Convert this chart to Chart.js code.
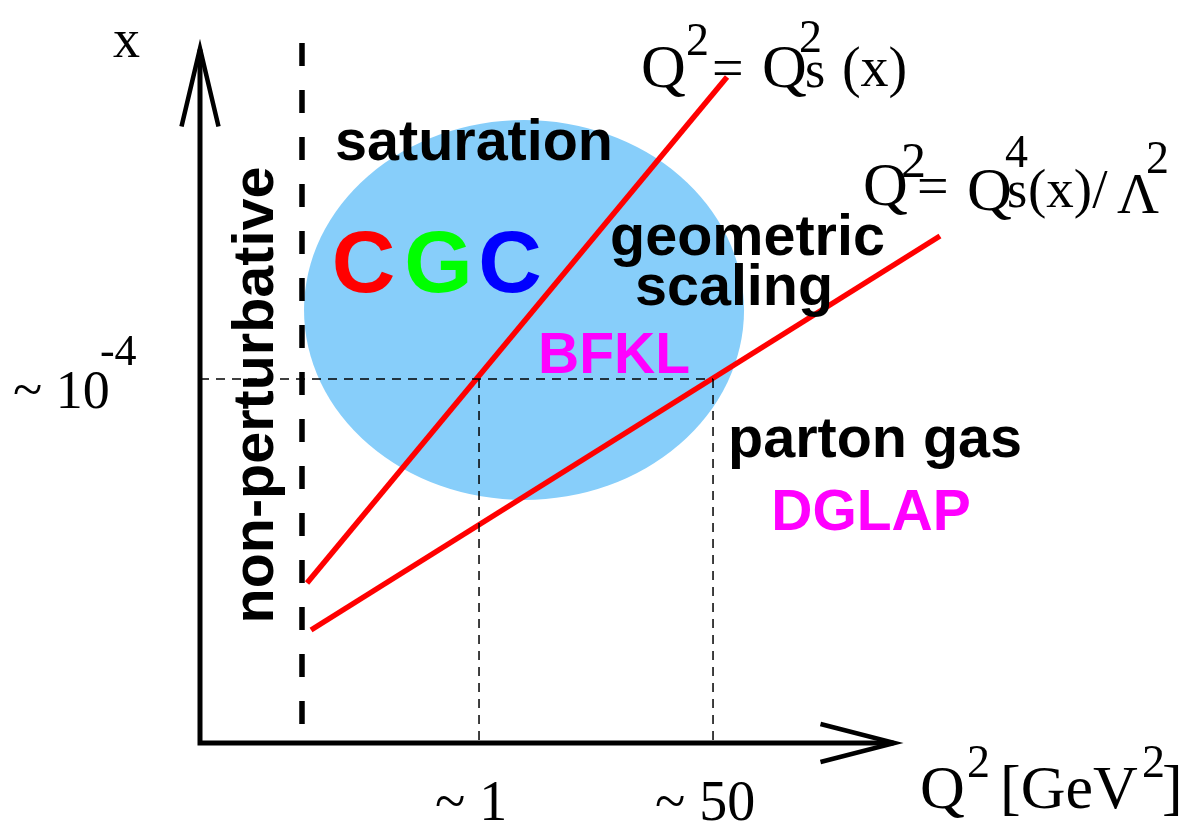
<!DOCTYPE html>
<html><head><meta charset="utf-8">
<script src="https://cdn.jsdelivr.net/npm/chart.js@4/dist/chart.umd.min.js"></script>
<style>html,body{margin:0;padding:0;background:#fff;}#wrap{width:1186px;height:830px;position:relative;}</style>
</head><body><div id="wrap"><canvas id="c"></canvas></div>
<script>
// ---- schematic data (abstract units: Q^2 axis horizontal, x axis vertical) ----
const axisEnd = 9.95;                    // both axes end (arrow tips)
const xTickLabels = ['~ 1', '~ 50'];
const xTickValues = [3.986, 7.329];     // ~1 GeV^2, ~50 GeV^2
const yTickLabel = '~ 10';
const yTickValue = 5.2;                 // ~10^-4
const nonPerturbativeQ = 1.457;         // non-perturbative boundary
const saturationLineX = [1.529, 7.529]; // Q^2 = Qs^2(x)
const saturationLineY = [2.286, 9.514];
const scalingLineX = [1.586, 10.571];   // Q^2 = Qs^4(x)/Lambda^2
const scalingLineY = [1.614, 7.243];
const cgcCenter = [4.629, 6.186];       // saturation region (ellipse)
const cgcRadius = [3.143, 2.714];

const SERIF = '"Liberation Serif", "DejaVu Serif", serif';
const SANS = '"Liberation Sans", Arial, sans-serif';

// text annotations: [text, x, y, size, family, bold, color, align, rotate]
const annotations = [
  ['x', -1.05, 9.8, 54, SERIF, false, '#000', 'center', 0],
  [yTickLabel, -2.671, 4.786, 54, SERIF, false, '#000', 'left', 0],
  ['-4', -1.429, 5.4, 44, SERIF, false, '#000', 'left', 0],
  [xTickLabels[0], 3.357, -1.1, 56, SERIF, false, '#000', 'left', 0],
  [xTickLabels[1], 6.5, -1.1, 56, SERIF, false, '#000', 'left', 0],
  ['Q', 10.286, -0.929, 62, SERIF, false, '#000', 'left', 0],
  ['2', 10.957, -0.486, 46, SERIF, false, '#000', 'left', 0],
  ['[GeV', 11.429, -0.929, 62, SERIF, false, '#000', 'left', 0],
  ['2', 13.457, -0.486, 46, SERIF, false, '#000', 'left', 0],
  [']', 13.743, -0.929, 62, SERIF, false, '#000', 'left', 0],
  // Q^2 = Qs^2(x)
  ['Q', 6.3, 9.371, 62, SERIF, false, '#000', 'left', 0],
  ['2', 6.943, 9.829, 46, SERIF, false, '#000', 'left', 0],
  ['=', 7.314, 9.371, 56, SERIF, false, '#000', 'left', 0],
  ['Q', 8.029, 9.371, 62, SERIF, false, '#000', 'left', 0],
  ['s', 8.643, 9.371, 52, SERIF, false, '#000', 'left', 0],
  ['2', 8.557, 9.871, 46, SERIF, false, '#000', 'left', 0],
  ['(x)', 9.171, 9.386, 56, SERIF, false, '#000', 'left', 0],
  // Q^2 = Qs^4(x)/Lambda^2
  ['Q', 9.471, 7.686, 62, SERIF, false, '#000', 'left', 0],
  ['2', 10.014, 8.086, 50, SERIF, false, '#000', 'left', 0],
  ['=', 10.243, 7.686, 56, SERIF, false, '#000', 'left', 0],
  ['Q', 10.957, 7.614, 62, SERIF, false, '#000', 'left', 0],
  ['4', 11.5, 8.229, 46, SERIF, false, '#000', 'left', 0],
  ['s', 11.529, 7.657, 52, SERIF, false, '#000', 'left', 0],
  ['(x)/', 11.829, 7.657, 55, SERIF, false, '#000', 'left', 0],
  ['\u039B', 13.1, 7.571, 58, SERIF, false, '#000', 'left', 0],
  ['2', 13.514, 8.143, 46, SERIF, false, '#000', 'left', 0],
  // region labels
  ['saturation', 1.929, 8.329, 57.5, SANS, true, '#000', 'left', 0],
  ['C', 2.336, 6.443, 88, SANS, true, '#ff0000', 'center', 0],
  ['G', 3.407, 6.443, 88, SANS, true, '#00ff00', 'center', 0],
  ['C', 4.429, 6.443, 88, SANS, true, '#0000ff', 'center', 0],
  ['geometric', 7.821, 6.971, 57.5, SANS, true, '#000', 'center', 0],
  ['scaling', 7.629, 6.257, 57.5, SANS, true, '#000', 'center', 0],
  ['BFKL', 5.914, 5.286, 57, SANS, true, '#ff00ff', 'center', 0],
  ['parton gas', 9.643, 4.086, 57.5, SANS, true, '#000', 'center', 0],
  ['DGLAP', 9.586, 3.043, 57, SANS, true, '#ff00ff', 'center', 0],
  ['non-perturbative', 1.043, 4.971, 57.5, SANS, true, '#000', 'center', -90]
];

function seg(xs, ys) { return xs.map((x, i) => ({ x: x, y: ys[i] })); }

const datasets = [
  { data: seg([nonPerturbativeQ, nonPerturbativeQ], [10, 0]), borderColor: '#000', borderWidth: 5.5, borderDash: [23, 24] },
  { data: seg([0, xTickValues[1]], [yTickValue, yTickValue]), borderColor: '#000', borderWidth: 1.5, borderDash: [9, 7] },
  { data: seg([xTickValues[0], xTickValues[0]], [yTickValue, 0]), borderColor: '#000', borderWidth: 1.5, borderDash: [9, 7] },
  { data: seg([xTickValues[1], xTickValues[1]], [yTickValue, 0]), borderColor: '#000', borderWidth: 1.5, borderDash: [9, 7] },
  { data: seg(saturationLineX, saturationLineY), borderColor: '#ff0000', borderWidth: 5.5 },
  { data: seg(scalingLineX, scalingLineY), borderColor: '#ff0000', borderWidth: 5.5 }
].map(d => Object.assign({ showLine: true, pointRadius: 0, fill: false, clip: false, tension: 0 }, d));

const diagram = {
  id: 'diagram',
  beforeDatasetsDraw(chart) {
    const ctx = chart.ctx, xs = chart.scales.x, ys = chart.scales.y;
    const cx = xs.getPixelForValue(cgcCenter[0]), cy = ys.getPixelForValue(cgcCenter[1]);
    const rx = xs.getPixelForValue(cgcCenter[0] + cgcRadius[0]) - cx;
    const ry = cy - ys.getPixelForValue(cgcCenter[1] + cgcRadius[1]);
    ctx.save();
    ctx.fillStyle = '#87cefa';
    ctx.beginPath();
    ctx.ellipse(cx, cy, rx, ry, 0, 0, Math.PI * 2);
    ctx.fill();
    ctx.restore();
  },
  afterDatasetsDraw(chart) {
    const ctx = chart.ctx, xs = chart.scales.x, ys = chart.scales.y;
    const ox = xs.getPixelForValue(0), oy = ys.getPixelForValue(0);
    const tx = xs.getPixelForValue(axisEnd), ty = ys.getPixelForValue(axisEnd);
    ctx.save();
    ctx.strokeStyle = '#000';
    ctx.lineWidth = 5;
    ctx.lineCap = 'butt';
    ctx.beginPath();
    ctx.moveTo(ox, ty + 3); ctx.lineTo(ox, oy + 2.5);
    ctx.moveTo(ox - 2.5, oy); ctx.lineTo(tx - 3, oy);
    ctx.stroke();
    ctx.lineWidth = 4.5;
    ctx.lineJoin = 'miter';
    ctx.beginPath();
    ctx.moveTo(ox - 18.5, ty + 80); ctx.lineTo(ox, ty + 2); ctx.lineTo(ox + 18.5, ty + 80);
    ctx.moveTo(tx - 76, oy - 19); ctx.lineTo(tx - 2, oy); ctx.lineTo(tx - 76, oy + 19);
    ctx.stroke();
    ctx.textBaseline = 'alphabetic';
    annotations.forEach(a => {
      const [t, x, y, size, fam, bold, color, align, rot] = a;
      ctx.font = (bold ? 'bold ' : '') + size + 'px ' + fam;
      ctx.fillStyle = color;
      ctx.textAlign = align;
      const px = xs.getPixelForValue(x), py = ys.getPixelForValue(y);
      if (rot) {
        ctx.save();
        ctx.translate(px, py);
        ctx.rotate(rot * Math.PI / 180);
        ctx.fillText(t, 0, 0);
        ctx.restore();
      } else {
        ctx.fillText(t, px, py);
      }
    });
    ctx.restore();
  }
};

new Chart(document.getElementById('c'), {
  type: 'scatter',
  data: { datasets: datasets },
  options: {
    responsive: true,
    maintainAspectRatio: false,
    animation: false,
    devicePixelRatio: 1,
    layout: { padding: { left: 200, right: 6, top: 43, bottom: 87 } },
    plugins: { legend: { display: false }, tooltip: { enabled: false } },
    scales: {
      x: { type: 'linear', min: 0, max: 14, display: false },
      y: { type: 'linear', min: 0, max: 10, display: false }
    }
  },
  plugins: [diagram]
});
</script></body></html>
